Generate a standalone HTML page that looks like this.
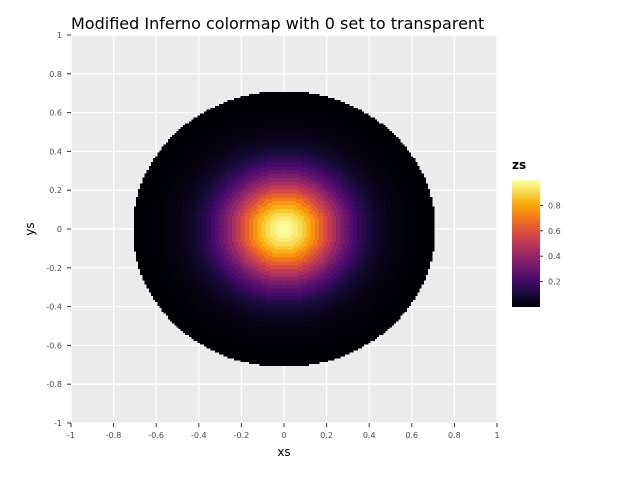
<!DOCTYPE html>
<html><head><meta charset="utf-8"><style>
body{margin:0;background:#fff;font-family:"Liberation Sans",sans-serif}
svg text{font-family:"DejaVu Sans","Liberation Sans",sans-serif}
</style></head><body>
<svg id="chart" width="640" height="480">
<defs>
<linearGradient id="inf" x1="0" y1="1" x2="0" y2="0">
<stop offset="0" stop-color="#000004"/><stop offset="0.1" stop-color="#160b39"/><stop offset="0.2" stop-color="#420a68"/><stop offset="0.3" stop-color="#6a176e"/><stop offset="0.4" stop-color="#932667"/><stop offset="0.5" stop-color="#bc3754"/><stop offset="0.6" stop-color="#dd513a"/><stop offset="0.7" stop-color="#f37819"/><stop offset="0.8" stop-color="#fca50a"/><stop offset="0.9" stop-color="#f6d746"/><stop offset="1" stop-color="#fcffa4"/>
</linearGradient></defs>
<text x="71" y="29" font-size="16" fill="#000">Modified Inferno colormap with 0 set to transparent</text>
<rect x="71" y="35" width="426" height="388" fill="#ebebeb"/>
<g id="grid"></g>
<g id="cells" shape-rendering="crispEdges"></g>
<g id="axes"></g>
<text x="284" y="456" font-size="12" text-anchor="middle">xs</text>
<text x="34" y="229" font-size="12" text-anchor="middle" transform="rotate(-90 34 229)">ys</text>
<text x="512" y="169" font-size="12" font-weight="bold">zs</text>
<rect x="512" y="180" width="28" height="127" fill="url(#inf)"/>
<g id="legend"></g>
</svg>
<script>
const xTicks=[-1,-0.8,-0.6,-0.4,-0.2,0,0.2,0.4,0.6,0.8,1];
const yTicks=[-1,-0.8,-0.6,-0.4,-0.2,0,0.2,0.4,0.6,0.8,1];
const radialStep=0.02;
const radialProfile=[1,0.994,0.978,0.951,0.915,0.871,0.819,0.762,0.701,0.638,0.575,0.512,0.450,0.392,0.338,0.288,0.242,0.202,0.166,0.135,0.109,0.087,0.068,0.053,0.041,0.031,0.024,0.018,0.013,0.0095,0.0068,0.0049,0.0034,0.0024,0.0017,0.0011,0.0008];
const maxRadius=0.71;
const legendTicks=[0.2,0.4,0.6,0.8];
const zMin=0,zMax=1;
const NS="http://www.w3.org/2000/svg";
const X=v=>71+(v+1)*213, Y=v=>423-(v+1)*194;
const stops=[[0,[0,0,4]],[0.1,[22,11,57]],[0.2,[66,10,104]],[0.3,[106,23,110]],[0.4,[147,38,103]],[0.5,[188,55,84]],[0.6,[221,81,58]],[0.7,[243,120,25]],[0.8,[252,165,10]],[0.9,[246,215,70]],[1,[252,255,164]]];
function col(t){t=Math.max(0,Math.min(1,t));for(let i=1;i<stops.length;i++){if(t<=stops[i][0]){const a=stops[i-1],b=stops[i],f=(t-a[0])/(b[0]-a[0]);return 'rgb('+a[1].map((c,k)=>Math.round(c+(b[1][k]-c)*f)).join(',')+')';}}return 'rgb(252,255,164)';}
function mk(tag,attrs,parent){const e=document.createElementNS(NS,tag);for(const k in attrs)e.setAttribute(k,attrs[k]);parent.appendChild(e);return e;}
const grid=document.getElementById('grid');
xTicks.forEach(v=>{
  const l=mk('line',{x1:X(v),x2:X(v),y1:35,y2:423,stroke:'#fff','stroke-width':1.3},grid);
  
  
});
yTicks.forEach(v=>{
  const l=mk('line',{y1:Y(v),y2:Y(v),x1:71,x2:497,stroke:'#fff','stroke-width':1.3},grid);
  
  
});
const cells=document.getElementById('cells');
const step=0.01, cw=step*213, ch=step*194;
for(let i=-71;i<=71;i++)for(let j=-71;j<=71;j++){
  const x=i*step,y=j*step,r=Math.hypot(x,y);
  if(r>=maxRadius-1e-9)continue;
  const idx=Math.min(radialProfile.length-1,Math.round(r/radialStep));
  const z=radialProfile[idx];
  const c=mk('rect',{x:(X(x)-cw/2).toFixed(2),y:(Y(y)-ch/2).toFixed(2),width:(cw+0.3).toFixed(2),height:(ch+0.3).toFixed(2),fill:col((z-zMin)/(zMax-zMin))},cells);
  
  
}
const axes=document.getElementById('axes');
xTicks.forEach(v=>{
  let t=mk('line',{x1:X(v),x2:X(v),y1:423,y2:427,stroke:'#333'},axes);
  
  
  t=mk('text',{x:X(v),y:438,'font-size':8,'text-anchor':'middle',fill:'#4d4d4d'},axes);
  t.textContent=String(v);
  
  
});
yTicks.forEach(v=>{
  let t=mk('line',{x1:67,x2:71,y1:Y(v),y2:Y(v),stroke:'#333'},axes);
  
  
  t=mk('text',{x:62,y:Y(v)+3,'font-size':8,'text-anchor':'end',fill:'#4d4d4d'},axes);
  t.textContent=String(v);
  
  
});
const lg=document.getElementById('legend');
legendTicks.forEach(v=>{
  const yy=307-(v-zMin)/(zMax-zMin)*127;
  let t=mk('line',{x1:540,x2:543,y1:yy,y2:yy,stroke:'#333'},lg);
  
  
  t=mk('text',{x:548,y:yy+3,'font-size':8,fill:'#4d4d4d'},lg);
  t.textContent=String(v);
  
  
});
</script>
</body></html>
